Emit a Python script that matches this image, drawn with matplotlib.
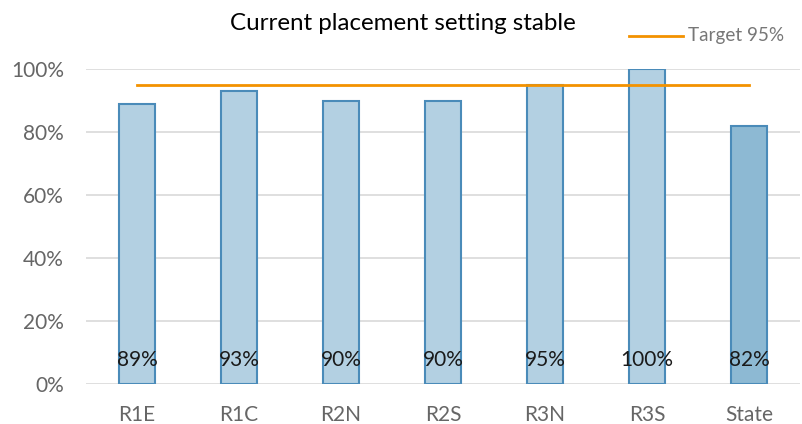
import numpy as np
import matplotlib.pyplot as plt
from matplotlib.ticker import PercentFormatter

# --- Data ---
categories = ['R1E', 'R1C', 'R2N', 'R2S', 'R3N', 'R3S', 'State']
values = [89, 93, 90, 90, 95, 100, 82]
target = 95

plt.rcParams['font.family'] = ['Lato', 'DejaVu Sans']

fig = plt.figure(figsize=(8.02, 4.24), dpi=100)
# axes placed in pixel terms: x 86..800, y 69 (100%) .. 384 (0%)
W, H = 802, 424
y0, y100 = 384, 69
ax = fig.add_axes([86 / W, (H - y0) / H, (800 - 86) / W, (y0 - y100) / H])

x = np.arange(len(categories))
fills = ['#B3D0E2'] * (len(categories) - 1) + ['#8DB9D3']
ax.bar(x, values, width=0.36, color=fills, edgecolor='#4A8BB9', linewidth=1.5, zorder=3)

# target line from first to last category centre
ax.plot([x[0], x[-1]], [target, target], color='#F39200', linewidth=2, zorder=4)

# value labels near the bottom of each bar
for xi, v in zip(x, values):
    ax.text(xi, 7.5, f'{v}%', ha='center', va='center', fontsize=15,
            color='#1a1a1a', zorder=5)

ax.set_xlim(-0.5, len(categories) - 0.5)
ax.set_ylim(0, 100)
ax.set_yticks(np.arange(0, 101, 20))
ax.yaxis.set_major_formatter(PercentFormatter(decimals=0))
ax.set_xticks(x)
ax.set_xticklabels(categories)
ax.tick_params(axis='both', length=0, labelsize=15, colors='#666666')
ax.tick_params(axis='x', pad=15)
ax.tick_params(axis='y', pad=16)
ax.grid(axis='y', color='#D9D9D9', linewidth=1.2, zorder=0)
ax.set_axisbelow(True)
for s in ax.spines.values():
    s.set_visible(False)

# title and legend as figure text
fig.text(403 / W, 1 - 24 / H, 'Current placement setting stable', ha='center',
         va='center', fontsize=17.4, color='black')
fig.add_artist(plt.Line2D([629 / W, 683 / W], [1 - 36 / H, 1 - 36 / H],
                          color='#F39200', linewidth=2))
fig.text(688 / W, 1 - 36 / H, 'Target 95%', ha='left', va='center',
         fontsize=13.6, color='#777777')

fig.savefig('out.png', dpi=100)
